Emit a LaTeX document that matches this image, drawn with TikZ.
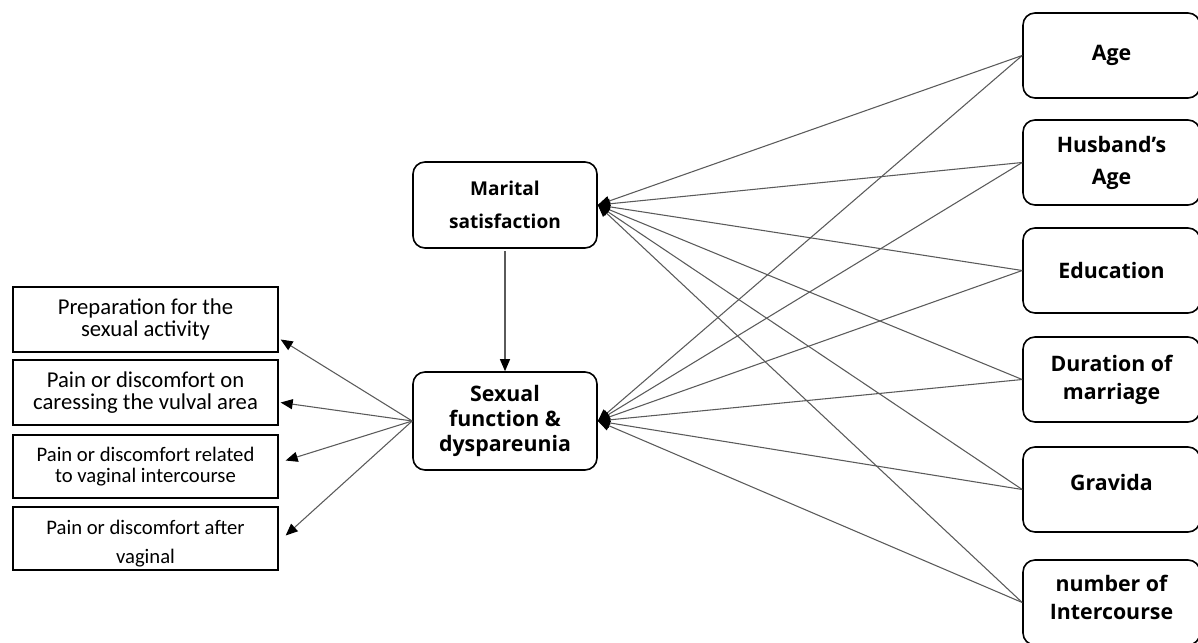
\documentclass[tikz,border=0pt]{standalone}
\usepackage{fontspec}
\setmainfont{Open Sans}
\newfontfamily\calfont{Carlito}
\usepackage{tikz}
\usetikzlibrary{arrows.meta,calc}
\definecolor{linec}{HTML}{5A5A5A}
\tikzset{
  >={Triangle[length=9pt,width=7.5pt,color=black]},
  fbox/.style={draw=black,line width=1.2pt,rounded corners=9pt,fill=white,align=center,
    minimum width=132.75pt,minimum height=63.75pt,inner sep=2pt,font=\fontsize{16}{21}\selectfont\bfseries},
  cbox/.style={draw=black,line width=1.2pt,rounded corners=9pt,fill=white,align=center,
    minimum width=138pt,inner sep=2pt},
  obox/.style={draw=black,line width=1pt,fill=white,align=center,
    minimum width=198.75pt,minimum height=48.75pt,inner sep=1pt,font=\calfont\fontsize{17}{17}\selectfont},
  oboxs/.style={obox,minimum height=47.25pt,font=\calfont\fontsize{15.5}{15.5}\selectfont},
  link/.style={->,draw=linec,line width=0.8pt},
}
\begin{document}
\begin{tikzpicture}[x=0.75pt,y=-0.75pt]
  \useasboundingbox (0,0) rectangle (1198,642);
  % central constructs
  \node[cbox,minimum height=64.5pt,font=\fontsize{14.3}{25}\selectfont\bfseries] (mar) at (505,205) {Marital\\satisfaction};
  \node[cbox,minimum height=73.5pt,font=\fontsize{16}{18.75}\selectfont\bfseries] (sex) at (505,421) {Sexual\\function \&\\dyspareunia};
  % predictors
  \node[fbox] (age) at (1111.5,55.5) {Age};
  \node[fbox,font=\fontsize{16}{24}\selectfont\bfseries] (hage) at (1111.5,162.5) {Husband's\\Age};
  \node[fbox] (edu) at (1111.5,270.5) {Education};
  \node[fbox] (dur) at (1111.5,379.5) {Duration of\\marriage};
  \node[fbox,text depth=10pt] (grav) at (1111.5,489.5) {Gravida};
  \node[fbox,text depth=8pt] (inter) at (1111.5,602.5) {number of\\Intercourse};
  % outcome domains
  \node[obox] (prep) at (145.5,319.5) {Preparation for the\\sexual activity};
  \node[obox] (pcar) at (145.5,392.5) {Pain or discomfort on\\caressing the vulval area};
  \node[oboxs] (pvag) at (145.5,466.5) {Pain or discomfort related\\to vaginal intercourse};
  \node[oboxs] (paft) at (145.5,538.5) {};
  \begin{scope}
    \clip ([shift={(1,-3)}]paft.south west) rectangle ([shift={(-1,1)}]paft.north east);
    \node[font=\calfont\fontsize{15.5}{22}\selectfont,align=center,inner sep=0pt] (paftt) at ($(paft)+(0,5)$) {Pain or discomfort after\\vaginal};
  \end{scope}
  % paths
  \foreach \p in {age,hage,edu,dur,grav,inter} {
    \draw[link] (\p.west) -- (mar.east);
    \draw[link] (\p.west) -- (sex.east);
  }
  \draw[link] ([yshift=-2pt]mar.south) -- (sex.north);
  \draw[link] (sex.west) -- ($(prep.east)+(2,20)$);
  \draw[link] (sex.west) -- ($(pcar.east)+(2,10)$);
  \draw[link] (sex.west) -- ($(pvag.east)+(7,-6)$);
  \draw[link] (sex.west) -- ($(paft.east)+(7,-3)$);
\end{tikzpicture}
\end{document}
